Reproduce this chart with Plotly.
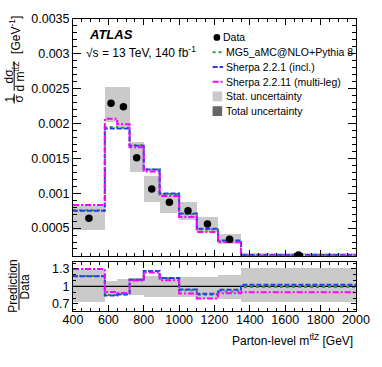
import plotly.graph_objects as go
import numpy as np

# bin edges (GeV) and normalised cross sections
edges = [400, 580, 650, 720, 800, 890, 1000, 1100, 1220, 1350, 2000]
data = [0.00064, 0.00229, 0.00224, 0.00151, 0.00106, 0.00087, 0.00075, 0.00056, 0.00034, 0.000112]
mg5 = [0.000755, 0.00195, 0.00194, 0.00169, 0.00134, 0.00099, 0.00070, 0.00048, 0.00031, 0.000111]
sherpa221 = [0.00075, 0.00193, 0.00193, 0.00168, 0.00134, 0.000995, 0.00071, 0.00049, 0.00032, 0.000115]
sherpa2211 = [0.00083, 0.00207, 0.00199, 0.00166, 0.00131, 0.00096, 0.00066, 0.000445, 0.00030, 0.000101]
stat_lo = [0.74, 0.88, 0.87, 0.86, 0.82, 0.83, 0.82, 0.79, 0.78, 0.73]
stat_hi = [1.28, 1.10, 1.13, 1.15, 1.18, 1.15, 1.17, 1.17, 1.20, 1.31]
ratio_ticks = [0.7, 1, 1.3]
ratio_ticktext = ["0.7", "1", "1.3"]

edges = np.array(edges, dtype=float)
data = np.array(data)
centers = 0.5 * (edges[:-1] + edges[1:])
widths = np.diff(edges)
lo = np.array(stat_lo)
hi = np.array(stat_hi)

FONT = "Liberation Sans, Arial, sans-serif"
W, H = 382, 367
L, R, T, B = 73, 13, 14, 56


def px(x):
    return (x - L) / (W - L - R)


def py(y):
    return (H - B - y) / (H - T - B)


models = [
    ("MG5_aMC@NLO+Pythia 8", mg5, "#3a9a3a", "dot"),
    ("Sherpa 2.2.1 (incl.)", sherpa221, "#2040f0", "5px,2px"),
    ("Sherpa 2.2.11 (multi-leg)", sherpa2211, "#ff00ff", "6px,2px,2px,2px"),
]

fig = go.Figure()

# stat. uncertainty boxes
fig.add_trace(go.Bar(x=centers, y=data * (hi - lo), base=data * lo, width=widths,
                     marker=dict(color="#cacaca", line_width=0), xaxis="x", yaxis="y"))
fig.add_trace(go.Bar(x=centers, y=hi - lo, base=lo, width=widths,
                     marker=dict(color="#cacaca", line_width=0), xaxis="x2", yaxis="y2"))
fig.add_trace(go.Scatter(x=[edges[0], edges[-1]], y=[1, 1], mode="lines",
                         line=dict(color="black", width=1.3), xaxis="x2", yaxis="y2"))

for name, vals, col, dash in models:
    vals = np.array(vals)
    fig.add_trace(go.Scatter(x=edges, y=np.append(vals, vals[-1]), mode="lines",
                             line=dict(color=col, width=2, dash=dash, shape="hv"),
                             xaxis="x", yaxis="y"))
    r = vals / data
    fig.add_trace(go.Scatter(x=edges, y=np.append(r, r[-1]), mode="lines",
                             line=dict(color=col, width=2, dash=dash, shape="hv"),
                             xaxis="x2", yaxis="y2"))

fig.add_trace(go.Scatter(x=centers, y=data, mode="markers",
                         marker=dict(color="black", size=7.5), xaxis="x", yaxis="y"))

ax = dict(showline=True, linecolor="black", linewidth=1, mirror="allticks",
          ticks="inside", tickcolor="black", showgrid=False, zeroline=False,
          ticklabeloverflow="allow",
          tickfont=dict(family=FONT, size=12.5, color="black"))

split = (H - B - 255) / (H - T - B)
rtop = (H - B - 261) / (H - T - B)

fig.update_layout(
    width=W, height=H,
    margin=dict(l=L, r=R, t=T, b=B),
    paper_bgcolor="white", plot_bgcolor="white",
    showlegend=False, barmode="overlay", bargap=0,
    font=dict(family=FONT, color="black"),
    xaxis=dict(ax, domain=[0, 1], range=[400, 2000], anchor="y", showticklabels=False,
               dtick=200, tick0=0, ticklen=6, minor=dict(dtick=50, ticklen=3, ticks="inside", tickcolor="black")),
    yaxis=dict(ax, domain=[split, 1], range=[0.0001, 0.0035], anchor="x",
               dtick=0.0005, tick0=0, tickformat=".4~f", ticklen=8,
               minor=dict(dtick=0.0001, ticklen=4, ticks="inside", tickcolor="black")),
    xaxis2=dict(ax, domain=[0, 1], range=[400, 2000], anchor="y2", dtick=200, tick0=0,
                ticklen=6, ticklabelstandoff=-3,
                minor=dict(dtick=50, ticklen=3, ticks="inside", tickcolor="black")),
    yaxis2=dict(ax, domain=[0, rtop], range=[0.58, 1.42], anchor="x2",
                tickmode="array", tickvals=ratio_ticks, ticktext=ratio_ticktext, ticklen=5,
                minor=dict(tickmode="linear", dtick=0.1, tick0=0, ticklen=3, ticks="inside", tickcolor="black")),
)

ann = []


def text(x, y, s, size=12, angle=0, xanchor="center", **kw):
    ann.append(dict(x=px(x), y=py(y), xref="paper", yref="paper", text=s, showarrow=False,
                    textangle=angle, xanchor=xanchor, yanchor="middle",
                    font=dict(family=FONT, size=size, color="black"), **kw))


shapes = []


def vline(x, y0, y1):
    shapes.append(dict(type="line", xref="paper", yref="paper", x0=px(x), x1=px(x),
                       y0=py(y0), y1=py(y1), line=dict(color="black", width=1)))


# y axis title of main panel
text(7, 95, "1", angle=-90)
text(16.5, 95, "σ", angle=-90)
vline(11.5, 90, 100)
text(6.5, 72, "dσ", angle=-90)
text(17, 72, "d m<sup>tt̄Z</sup>", angle=-90)
vline(11.5, 57, 87)
text(12.5, 30, "[GeV<sup>-1</sup>]", angle=-90)

# ratio title
text(10.5, 286, "Prediction", angle=-90)
vline(16.5, 262, 310)
text(23, 286, "Data", angle=-90)

# x title
text(368, 341, "Parton-level m<sup>tt̄Z</sup> [GeV]", xanchor="right")

# ATLAS label
text(88, 29.5, "<b><i>ATLAS</i></b>", size=13, xanchor="left")
text(85, 48, "√s = 13 TeV, 140 fb<sup>-1</sup>", size=12, xanchor="left")

# legend
LS = 10.5
rows = [32.7, 47.7, 62.7, 77.7, 92.7, 107.7]
shapes.append(dict(type="circle", xref="paper", yref="paper", x0=px(220), x1=px(227),
                   y0=py(rows[0] - 3.5), y1=py(rows[0] + 3.5), fillcolor="black", line_width=0))
text(228, rows[0], "Data", size=LS, xanchor="left")
for (name, vals, col, dash), yy in zip(models, rows[1:4]):
    shapes.append(dict(type="line", xref="paper", yref="paper", x0=px(219), x1=px(230),
                       y0=py(yy), y1=py(yy), line=dict(color=col, width=2, dash=dash)))
    text(230.5, yy, name, size=LS, xanchor="left")
for label, col, yy in [("Stat. uncertainty", "#cacaca", rows[4]), ("Total uncertainty", "#666666", rows[5])]:
    shapes.append(dict(type="rect", xref="paper", yref="paper", x0=px(219), x1=px(229),
                       y0=py(yy - 5), y1=py(yy + 5), fillcolor=col, line_width=0))
    text(230.5, yy, label, size=LS, xanchor="left")

fig.update_layout(annotations=ann, shapes=shapes)

fig.write_html("out.html", config={"displayModeBar": False},
               post_script="document.body.style.margin='0';")
